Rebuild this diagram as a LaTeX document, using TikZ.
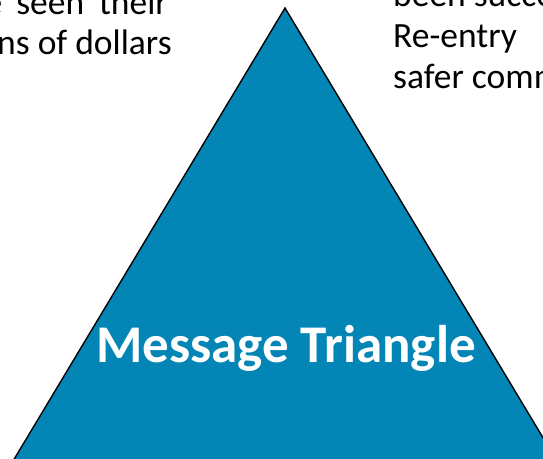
\documentclass[tikz,border=0pt]{standalone}
\usepackage{fontspec}
\setmainfont{Carlito}
\begin{document}
\begin{tikzpicture}[x=1pt,y=-1pt,
  body/.style={inner sep=0pt,font=\fontsize{35.5}{41}\selectfont,text=black},
  title/.style={inner sep=0pt,font=\fontsize{53}{60}\selectfont\bfseries,text=white},
  tri/.style={fill=triblue,draw=black,line width=1.4pt,line join=miter}]
\definecolor{triblue}{RGB}{3,134,182}
\useasboundingbox (0,0) rectangle (543,458);
\clip (0,0) rectangle (543,458);
% the triangle, running past the lower edge
\coordinate (apex) at (285,8);
\coordinate (bl) at (7,471);
\coordinate (br) at (563,471);
\draw[tri] (apex) -- (br) -- (bl) -- cycle;
\node[title,anchor=base] (lbl) at (286,362) {Message Triangle};
% left paragraph, justified lines
\node[body,anchor=base east] (l1) at (168,14) {{\spaceskip=6pt Companies have ‘seen’ their}};
\node[body,anchor=base east] (l2) at (172,54) {billions of dollars};
% right paragraph
\node[body,anchor=base west] (r1) at (393,6) {been successful};
\node[body,anchor=base west] (r2) at (393,47) {Re-entry};
\node[body,anchor=base west] (r3) at (393,88) {safer communities};
\end{tikzpicture}
\end{document}
